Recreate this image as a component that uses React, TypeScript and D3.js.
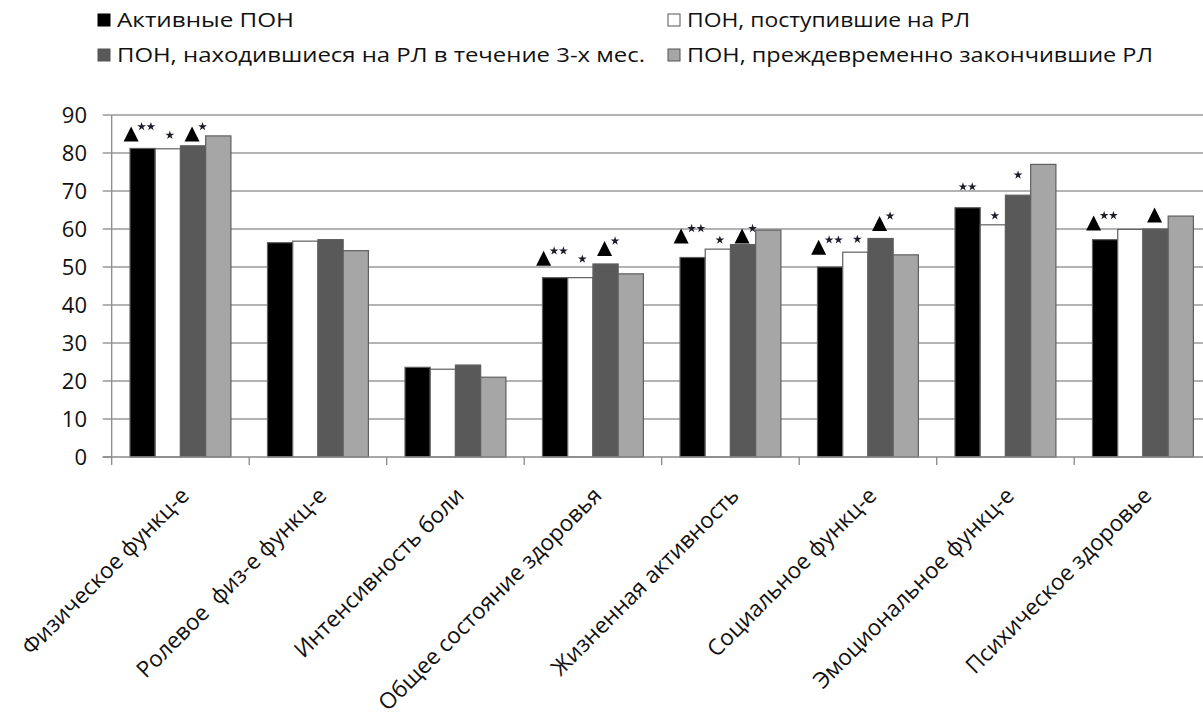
import React from "react";
import * as d3 from "d3";

const categories = [
  "Физическое функц-е",
  "Ролевое  физ-е функц-е",
  "Интенсивность боли",
  "Общее состояние здоровья",
  "Жизненная активность",
  "Социальное функц-е",
  "Эмоциональное функц-е",
  "Психическое здоровье",
];
const seriesNames = [
  "Активные ПОН",
  "ПОН, поступившие на РЛ",
  "ПОН, находившиеся на РЛ в течение 3-х мес.",
  "ПОН, преждевременно закончившие РЛ",
];
const activeValues = [81.2, 56.4, 23.6, 47.2, 52.5, 50.0, 65.6, 57.2];
const enrolledValues = [81.1, 56.8, 23.1, 47.2, 54.7, 53.9, 61.1, 59.9];
const threeMonthValues = [81.9, 57.2, 24.2, 50.8, 55.9, 57.5, 68.9, 60.0];
const droppedValues = [84.5, 54.3, 21.0, 48.2, 59.7, 53.2, 77.0, 63.4];
const yTicks = [0, 10, 20, 30, 40, 50, 60, 70, 80, 90];

// significance marks: [triangle?, star count, level (value units)]
type Mark = [boolean, number, number] | null;
const activeMarks: Mark[] = [[true, 2, 83.0], null, null, [true, 2, 50.3], [true, 2, 56.2], [true, 2, 53.2], [false, 2, 71.1], [true, 2, 59.6]];
const enrolledMarks: Mark[] = [[false, 1, 84.7], null, null, [false, 1, 52.1], [false, 1, 57.1], [false, 1, 57.3], [false, 1, 63.5], null];
const threeMonthMarks: Mark[] = [[true, 1, 83.0], null, null, [true, 1, 52.9], [true, 1, 56.2], [true, 1, 59.5], [false, 1, 74.2], [true, 0, 61.7]];
const droppedMarks: Mark[] = [null, null, null, null, null, null, null, null];

const seriesValues = [activeValues, enrolledValues, threeMonthValues, droppedValues];
const seriesMarks = [activeMarks, enrolledMarks, threeMonthMarks, droppedMarks];
const seriesColors = ["#000000", "#ffffff", "#595959", "#a6a6a6"];
const triOffset = [-11.5, 0, -1, 0];
const starOffset = [0, 2, 0, 0];

const W = 1203;
const H = 713;
const left = 111.7;
const catW = 137.5;
const FONT = "'Open Sans', 'Noto Sans', sans-serif";

const legendItems = [
  { name: seriesNames[0], color: seriesColors[0], x: 98, y: 27, len: 177 },
  { name: seriesNames[1], color: seriesColors[1], x: 668, y: 27, len: 283 },
  { name: seriesNames[2], color: seriesColors[2], x: 98, y: 62, len: 528 },
  { name: seriesNames[3], color: seriesColors[3], x: 668, y: 62, len: 466 },
];

export default function App() {
  const x0 = d3.scaleBand<string>().domain(categories).range([left, left + catW * categories.length]);
  const x1 = d3.scaleBand<string>().domain(seriesNames).range([18.3, catW - 18.3]);
  const y = d3.scaleLinear().domain([0, 90]).range([457, 115]);
  const star = d3.symbol().type(d3.symbolStar).size(24)() as string;
  const bw = x1.bandwidth();

  return (
    <svg width={W} height={H} style={{ position: "absolute", left: 0, top: 0, background: "#fff" }}>
      <defs>
        <clipPath id="clip">
          <rect x={0} y={0} width={W} height={H} />
        </clipPath>
      </defs>
      {/* legend */}
      {legendItems.map((l, i) => (
        <g key={i}>
          <rect x={l.x} y={l.y - 13} width={12} height={12} fill={l.color} stroke={i === 0 ? "#000" : "#555"} strokeWidth={1} />
          <text x={l.x + 19} y={l.y} fontFamily={FONT} fontSize={20} fill="#111" textLength={l.len} lengthAdjust="spacingAndGlyphs">
            {l.name}
          </text>
        </g>
      ))}
      <g clipPath="url(#clip)">
        {/* gridlines */}
        {yTicks.map((t) => (
          <g key={t}>
            {t > 0 && <line x1={left} x2={left + catW * 8} y1={y(t)} y2={y(t)} stroke="#9a9a9a" strokeWidth={1.3} />}
            <line x1={left - 9} x2={left} y1={y(t)} y2={y(t)} stroke="#8a8a8a" strokeWidth={1.3} />
            <text x={87} y={y(t) + 7.5} textAnchor="end" fontFamily={FONT} fontSize={22} fill="#111">
              {t}
            </text>
          </g>
        ))}
        {/* bars */}
        {categories.map((c, ci) => (
          <g key={c}>
            {seriesNames.map((s, si) => {
              const v = seriesValues[si][ci];
              return (
                <rect
                  key={s}
                  x={(x0(c) as number) + (x1(s) as number)}
                  y={y(v)}
                  width={bw}
                  height={y(0) - y(v)}
                  fill={seriesColors[si]}
                  stroke="#5f5f5f"
                  strokeWidth={1.2}
                />
              );
            })}
          </g>
        ))}
        {/* axes */}
        <line x1={left} x2={left} y1={y(90)} y2={y(0)} stroke="#8a8a8a" strokeWidth={1.3} />
        <line x1={left - 9} x2={left + catW * 8} y1={y(0)} y2={y(0)} stroke="#8a8a8a" strokeWidth={1.3} />
        {d3.range(categories.length + 1).map((i) => (
          <line key={i} x1={left + i * catW} x2={left + i * catW} y1={y(0)} y2={y(0) + 8} stroke="#8a8a8a" strokeWidth={1.3} />
        ))}
        {/* significance marks */}
        {categories.map((c, ci) =>
          seriesNames.map((s, si) => {
            const m = seriesMarks[si][ci];
            if (!m) return null;
            const [tri, nStars, level] = m;
            const bc = (x0(c) as number) + (x1(s) as number) + bw / 2;
            const ly = y(level);
            const els: React.ReactNode[] = [];
            if (tri) {
              const cx = bc + triOffset[si];
              const pts: [number, number][] = [
                [cx - 7.5, ly],
                [cx + 7.5, ly],
                [cx, ly - 15],
              ];
              els.push(<path key="t" d={(d3.line()(pts) as string) + "Z"} fill="#000" />);
              for (let k = 0; k < nStars; k++) {
                els.push(<path key={"s" + k} d={star} transform={`translate(${cx + 10.5 + k * 9.3},${ly - 15})`} fill="#1c1c2a" />);
              }
            } else {
              const cx = bc + starOffset[si];
              for (let k = 0; k < nStars; k++) {
                const sx = cx + (k - (nStars - 1) / 2) * 9.3;
                els.push(<path key={"s" + k} d={star} transform={`translate(${sx},${ly})`} fill="#1c1c2a" />);
              }
            }
            return <g key={c + s}>{els}</g>;
          })
        )}
        {/* category labels */}
        {categories.map((c) => {
          const cx = (x0(c) as number) + catW / 2;
          return (
            <text key={c} transform={`translate(${cx + 10},${497}) rotate(-45)`} textAnchor="end" fontFamily={FONT} fontSize={22.5} fill="#111" style={{ whiteSpace: "pre" }}>
              {c}
            </text>
          );
        })}
      </g>
    </svg>
  );
}
